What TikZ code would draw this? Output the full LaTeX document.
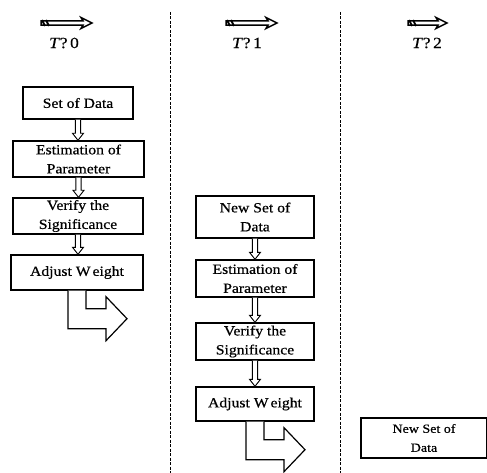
\documentclass[tikz,border=0pt]{standalone}
\usepackage{fontspec}
\setmainfont{Liberation Serif}
\newfontfamily\boxfont[FakeStretch=1.12,FakeBold=0.6]{Liberation Serif}
\usetikzlibrary{arrows.meta,calc}
\newcommand{\hollowdown}[2]{%
  \draw[dnshape] let \p1=(#1.south), \p2=(#2.north) in
    (\x1-2.6pt,\y1) -- (\x1-2.6pt,\y2+7pt) -- (\x1-5.5pt,\y2+7pt) -- (\x1,\y2)
    -- (\x1+5.5pt,\y2+7pt) -- (\x1+2.6pt,\y2+7pt) -- (\x1+2.6pt,\y1);}
\newcommand{\headarrow}[2]{%
  \draw[hdshape] let \p1=(#1), \p2=(#2) in
    (\x1,\y1+2.2pt) -- (\x2-9pt,\y1+2.2pt) -- (\x2-11pt,\y1+5.5pt) -- (\x2,\y1)
    -- (\x2-11pt,\y1-5.5pt) -- (\x2-9pt,\y1-2.2pt) -- (\x1,\y1-2.2pt) -- cycle;
  \draw[line width=1.8pt] let \p1=(#1) in (\x1+1pt,\y1+3pt) -- (\x1+4pt,\y1-3pt)
    (\x1+5pt,\y1+3pt) -- (\x1+8pt,\y1-3pt);}
\begin{document}
\begin{tikzpicture}[x=1pt,y=-1pt,
  box/.style={draw=black,line width=1.4pt,align=center,font=\boxfont\fontsize{14}{19}\selectfont,inner sep=0pt},
  dnshape/.style={draw=black,line width=0.9pt,fill=white,line join=miter},
  hdshape/.style={draw=black,line width=1.5pt,fill=white,line join=miter},
  hollow/.style={draw=black,line width=1.2pt,fill=white,line join=miter},
  divider/.style={draw=black,line width=0.8pt,dash pattern=on 3pt off 1.5pt},
  tlabel/.style={font=\boxfont\fontsize{15.5}{18}\selectfont,inner sep=0pt}]
\useasboundingbox (0,0) rectangle (487,473);
% dividers
\coordinate (d1t) at (170,12); \coordinate (d1b) at (170,473);
\coordinate (d2t) at (340,12); \coordinate (d2b) at (340,473);
\draw[divider] (d1t) -- (d1b);
\draw[divider] (d2t) -- (d2b);
% header arrows and labels
\coordinate (h0a) at (41,23); \coordinate (h0b) at (92,23);
\coordinate (h1a) at (226,23); \coordinate (h1b) at (277,23);
\coordinate (h2a) at (408,23); \coordinate (h2b) at (447,23);
\headarrow{h0a}{h0b}
\headarrow{h1a}{h1b}
\headarrow{h2a}{h2b}
\node[tlabel] (t0) at (64,43) {\textit{T}?\,0};
\node[tlabel] (t1) at (247,43) {\textit{T}?\,1};
\node[tlabel] (t2) at (427,43) {\textit{T}?\,2};
% column 1
\node[box,minimum width=110pt,minimum height=32pt] (s1) at (78,103) {Set of Data};
\node[box,minimum width=131pt,minimum height=36pt] (e1) at (78.5,159) {Estimation of\\Parameter};
\node[box,minimum width=130pt,minimum height=36pt] (v1) at (78,216) {Verify the\\Significance};
\node[box,minimum width=132pt,minimum height=35pt] (a1) at (77,272.5) {Adjust W\kern2pt eight};
\hollowdown{s1}{e1}
\hollowdown{e1}{v1}
\hollowdown{v1}{a1}
% column 2
\node[box,minimum width=118pt,minimum height=42pt] (n2) at (255,217) {New Set of\\Data};
\node[box,minimum width=118pt,minimum height=37pt] (e2) at (255,278.5) {Estimation of\\Parameter};
\node[box,minimum width=118pt,minimum height=37pt] (v2) at (255,341.5) {Verify the\\Significance};
\node[box,minimum width=118pt,minimum height=34pt] (a2) at (255,404) {Adjust W\kern2pt eight};
\hollowdown{n2}{e2}
\hollowdown{e2}{v2}
\hollowdown{v2}{a2}
% column 3
\node[box,minimum width=126pt,minimum height=40pt,font=\boxfont\fontsize{12.5}{19}\selectfont] (n3) at (424,438) {New Set of\\Data};
% elbow arrows
\foreach \b in {a1,a2}{
  \draw[hollow] ($(\b.south)+(-9,0)$) -- ++(0,38) -- ++(38,0) -- ++(0,12)
     -- ++(21,-22) -- ++(-21,-22) -- ++(0,12) -- ++(-20,0) -- ++(0,-18);
}
\end{tikzpicture}
\end{document}
